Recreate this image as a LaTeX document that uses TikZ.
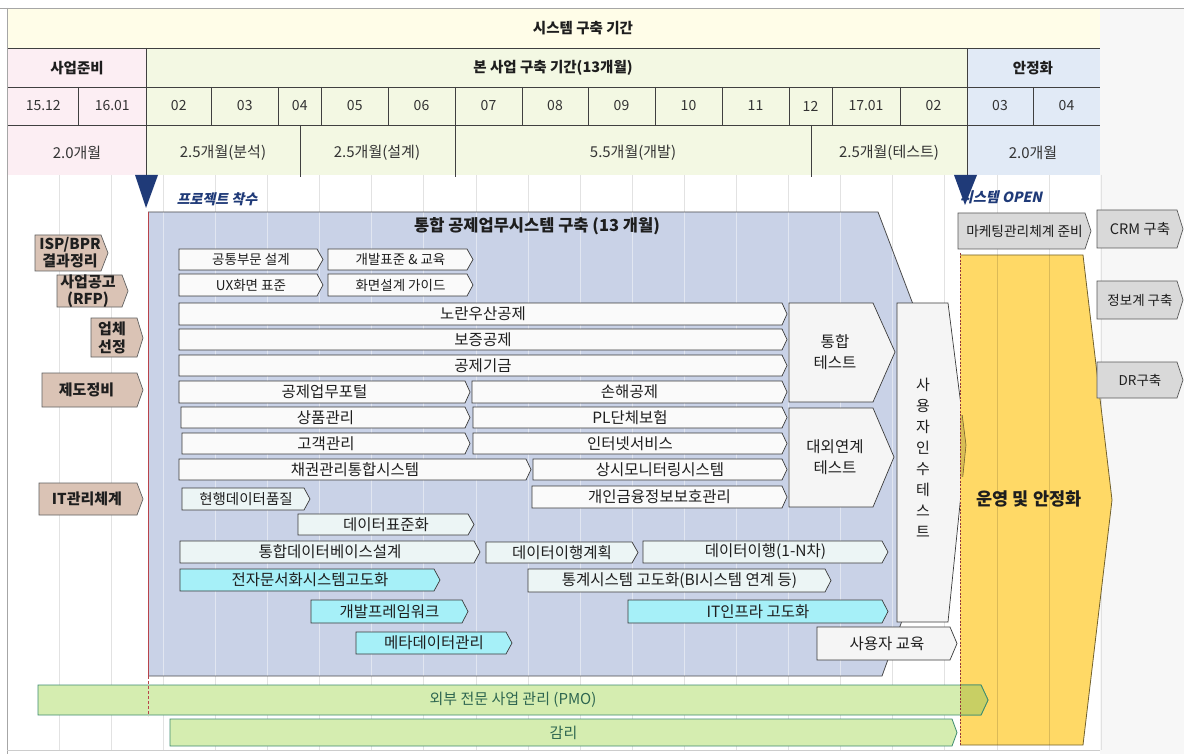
\documentclass[tikz,border=0pt]{standalone}
\usepackage{fontspec}
\setmainfont{Noto Sans CJK KR}
\newfontfamily\slfont[FakeSlant=0.22]{Noto Sans CJK KR}

\definecolor{hdrcream}{HTML}{FFFDE8}
\definecolor{hdrpink}{HTML}{FCEEF3}
\definecolor{hdrgreen}{HTML}{F3F8E3}
\definecolor{hdrblue}{HTML}{E1EAF6}
\definecolor{hdrline}{HTML}{404040}
\definecolor{gridc}{HTML}{E2E2E2}
\definecolor{mainblue}{HTML}{C9D2E7}
\definecolor{bardraw}{HTML}{3A3A3A}
\definecolor{wbar}{HTML}{FAFAFA}
\definecolor{dbar}{HTML}{ECF5F5}
\definecolor{cbar}{HTML}{A6F0F8}
\definecolor{tanc}{HTML}{DAC3B5}
\definecolor{greyc}{HTML}{D9D9D9}
\definecolor{goldc}{HTML}{FFD966}
\definecolor{navy}{HTML}{1F3A78}
\definecolor{pmofill}{HTML}{D5EDB0}
\definecolor{pmodraw}{HTML}{3E8C70}
\definecolor{pmotext}{HTML}{2E6650}
\definecolor{pmoolive}{HTML}{C8CF64}
\definecolor{tipolive}{HTML}{D9BC55}
\definecolor{redl}{HTML}{B8434A}
\definecolor{txt}{HTML}{1E1E1E}
\definecolor{monthtxt}{HTML}{333333}

\newcommand\tbar[9]{%
  \path[#6] (#2,#3) -- ({#4-#7},#3) -- (#4,{(#3+#5)/2}) -- ({#4-#7},#5) -- (#2,#5) -- cycle;
  \node[font=\fontsize{#8}{#8}\selectfont, text=txt, inner sep=0pt] (#1) at ({(#2+#4)/2},{(#3+#5)/2}) {#9};
}

\tikzset{
  wb/.style={draw=bardraw, line width=0.7pt, fill=wbar},
  db/.style={draw=bardraw, line width=0.7pt, fill=dbar},
  cb/.style={draw=bardraw, line width=0.7pt, fill=cbar},
  tb/.style={draw=gray!75!black, line width=0.7pt, fill=tanc},
  gb/.style={draw=gray!70!black, line width=0.7pt, fill=greyc},
  testbox/.style={draw=bardraw, line width=0.7pt, fill=white!96!black},
  hdr/.style={font=\bfseries\fontsize{14.5}{14.5}\selectfont, text=txt, inner sep=0pt},
  mon/.style={font=\fontsize{14}{14}\selectfont, text=monthtxt, inner sep=0pt},
  per/.style={font=\fontsize{15}{15}\selectfont, text=monthtxt, inner sep=0pt},
  hl/.style={draw=hdrline, line width=0.8pt},
}

\begin{document}
\begin{tikzpicture}[x=1pt,y=-1pt]
\useasboundingbox (0,0) rectangle (1184,754);
\fill[white] (0,0) rectangle (1184,754);
\fill[white!97!black] (1100,8) rectangle (1184,754);

% body grid
\foreach \k in {1,...,21} {
  \draw[gridc, line width=0.8pt] ({7+52.1*\k},175) -- ({7+52.1*\k},750);
}

% header fills
\fill[hdrcream] (8,8) rectangle (1100,48);
\fill[hdrpink] (8,48) rectangle (146,175);
\fill[hdrgreen] (146,48) rectangle (967,175);
\fill[hdrblue] (967,48) rectangle (1100,175);
\draw[gray!70, line width=0.6pt] (0,8) -- (1184,8);
\draw[gray!70, line width=0.8pt] (7,8) -- (7,754);
\draw[gray!40, line width=0.6pt] (7,750) -- (1100,750);
\draw[hl] (8,48) -- (1100,48);
\draw[hl] (8,87) -- (1100,87);
\draw[hl] (8,125) -- (1100,125);
\draw[hl] (146,48) -- (146,176);
\draw[hl] (967,48) -- (967,176);
\foreach \x in {78.5,211.5,278,321.5,388,455,522,588,655,722,789,832,900,1033} {
  \draw[hl] (\x,87) -- (\x,125);
}
\foreach \x in {300,455,811} {
  \draw[hl] (\x,125) -- (\x,177);
}
\node[hdr] (title) at (583,28) {시스템 구축 기간};
\node[hdr] (prep) at (77,68) {사업준비};
\node[hdr] (main) at (553,68) {본 사업 구축 기간(13개월)};
\node[hdr] (stab) at (1033,68) {안정화};
\foreach \a/\b/\t [count=\i] in {8/78.5/15.12, 78.5/146/16.01, 146/211.5/02, 211.5/278/03, 278/321.5/04, 321.5/388/05, 388/455/06, 455/522/07, 522/588/08, 588/655/09, 655/722/10, 722/789/11, 789/832/12, 832/900/17.01, 900/967/02, 967/1033/03, 1033/1100/04} {
  \node[mon] (m\i) at ({(\a+\b)/2},106) {\t};
}
\node[per] (p1) at (77,153) {2.0개월};
\node[per] (p2) at (223,153) {2.5개월(분석)};
\node[per] (p3) at (377,153) {2.5개월(설계)};
\node[per] (p4) at (633,153) {5.5개월(개발)};
\node[per] (p5) at (889,153) {2.5개월(테스트)};
\node[per] (p6) at (1033,153) {2.0개월};

% main blue pentagon
\fill[mainblue] (148,212) -- (878,212) -- (966,444) -- (882,676) -- (148,676) -- cycle;
\begin{scope}
  \clip (148,212) -- (878,212) -- (966,444) -- (882,676) -- (148,676) -- cycle;
  \foreach \k in {3,...,18} {
    \draw[white, opacity=0.45, line width=0.8pt] ({7+52.1*\k},212) -- ({7+52.1*\k},676);
  }
\end{scope}
\draw[draw=gray!60!black, line width=0.8pt] (148,212) -- (878,212) -- (966,444) -- (882,676) -- (148,676);
\draw[redl, line width=0.7pt] (148,212) -- (148,676);
\node[font=\bfseries\fontsize{16.5}{16.5}\selectfont, text=txt, inner sep=0pt] (maintitle) at (537,226) {통합 공제업무시스템 구축 (13 개월)};

% task bars
\tbar{gb1}{179}{249}{323}{270}{wb}{6}{13.5}{공통부문 설계}
\tbar{gb2}{328}{249}{473}{270}{wb}{6}{13.5}{개발표준 \& 교육}
\tbar{gb3}{179}{274}{323}{296}{wb}{6}{13.5}{UX화면 표준}
\tbar{gb4}{328}{274}{473}{296}{wb}{6}{13.5}{화면설계 가이드}
\tbar{b5}{179}{303}{787}{325}{wb}{5}{15.5}{노란우산공제}
\tbar{b6}{179}{329}{787}{350}{wb}{5}{15.5}{보증공제}
\tbar{b7}{179}{355}{787}{376}{wb}{5}{15.5}{공제기금}
\tbar{b8}{179}{381}{470}{403}{wb}{5}{15.5}{공제업무포털}
\tbar{b9}{472}{381}{787}{403}{wb}{5}{15.5}{손해공제}
\tbar{b10}{181}{407}{470}{428}{wb}{5}{15.5}{상품관리}
\tbar{b11}{473}{407}{787}{428}{wb}{5}{15.5}{PL단체보험}
\tbar{b12}{182}{433}{470}{454}{wb}{5}{15.5}{고객관리}
\tbar{b13}{473}{433}{787}{454}{wb}{5}{15.5}{인터넷서비스}
\tbar{b14}{179}{459}{531}{480}{wb}{5}{15.5}{채권관리통합시스템}
\tbar{b15}{533}{459}{787}{480}{wb}{5}{15.5}{상시모니터링시스템}
\tbar{b16}{532}{486}{787}{508}{wb}{5}{15.5}{개인금융정보보호관리}
\tbar{d1}{182}{488}{310}{510}{db}{6}{14.5}{현행데이터품질}
\tbar{d2}{298}{514}{474}{535}{db}{6}{15.5}{데이터표준화}
\tbar{d3}{180}{541}{480}{563}{db}{6}{15.5}{통합데이터베이스설계}
\tbar{d4}{486}{542}{638}{563}{db}{6}{15.5}{데이터이행계획}
\tbar{d5}{643}{541}{888}{563}{db}{6}{15.5}{데이터이행(1-N차)}
\tbar{d6}{528}{569}{831}{592}{db}{6}{15.5}{통계시스템 고도화(BI시스템 연계 등)}
\tbar{c1}{180}{569}{440}{591}{cb}{6}{15.5}{전자문서화시스템고도화}
\tbar{c2}{311}{600}{468}{623}{cb}{6}{15.5}{개발프레임워크}
\tbar{c3}{628}{600}{888}{623}{cb}{6}{15.5}{IT인프라 고도화}
\tbar{c4}{356}{632}{512}{654}{cb}{6}{15.5}{메타데이터관리}

% test chevrons
\path[testbox] (789,303) -- (873,303) -- (895,352) -- (873,402) -- (789,402) -- cycle;
\node[font=\fontsize{15.5}{21}\selectfont, align=center, text=txt, inner sep=0pt] (itest) at (835,352) {통합\\테스트};
\path[testbox] (789,408) -- (873,408) -- (894,457) -- (873,507) -- (789,507) -- cycle;
\node[font=\fontsize{15.5}{21}\selectfont, align=center, text=txt, inner sep=0pt] (xtest) at (835,457) {대외연계\\테스트};
\path[testbox] (897,303) -- (948,303) -- (966,445) -- (948,622) -- (897,622) -- cycle;
\node[font=\fontsize{15}{21}\selectfont, align=center, text=txt, inner sep=0pt] (uat) at (923,458) {사\\용\\자\\인\\수\\테\\스\\트};
\tbar{edu}{817}{627}{957}{660}{testbox}{7}{15.5}{사용자 교육}

% left column
\path[tb] (35,235) -- (101,235) -- (108,253) -- (101,271) -- (35,271) -- cycle;
\node[font=\bfseries\fontsize{15}{17}\selectfont, align=center, text=txt, inner sep=0pt] (isp) at (70,253) {ISP/BPR\\결과정리};
\path[tb] (57,275) -- (122,275) -- (128,291) -- (122,307) -- (57,307) -- cycle;
\node[font=\bfseries\fontsize{15}{17}\selectfont, align=center, text=txt, inner sep=0pt] (rfp) at (88,291) {사업공고\\(RFP)};
\path[tb] (91,318) -- (137,318) -- (143,338) -- (137,357) -- (91,357) -- cycle;
\node[font=\bfseries\fontsize{15}{18}\selectfont, align=center, text=txt, inner sep=0pt] (sel) at (112,338) {업체\\선정};
\tbar{law}{42}{373}{143}{407}{tb}{6}{15}{\bfseries\hspace*{-12pt}제도정비}
\tbar{itm}{39}{483}{143}{515}{tb}{6}{15}{\bfseries\hspace*{-8pt}IT관리체계}

% yellow operation
\fill[goldc] (960,255) -- (1083,255) -- (1112,500) -- (1083,745) -- (960,745) -- cycle;
\begin{scope}
  \clip (960,255) -- (1083,255) -- (1112,500) -- (1083,745) -- (960,745) -- cycle;
  \foreach \k in {19,20} {
    \draw[black!40!goldc, opacity=0.35, line width=0.8pt] ({7+52.1*\k},255) -- ({7+52.1*\k},745);
  }
\end{scope}
\draw[draw=black!55!goldc, line width=0.8pt] (960,255) -- (1083,255) -- (1112,500) -- (1083,745) -- (960,745);
\node[font=\bfseries\fontsize{17.5}{18}\selectfont, text=txt, inner sep=0pt] (ops) at (1029,499) {운영 및 안정화};
% tip of acceptance test over the yellow
\begin{scope}
  \clip (960,415) rectangle (990,476);
  \path[fill=tipolive, draw=black!55!goldc, line width=0.6pt] (897,303) -- (948,303) -- (966,445) -- (948,622) -- (897,622) -- cycle;
\end{scope}

% PMO and audit
\tbar{pmo}{38}{685}{988}{715}{draw=pmodraw, line width=0.8pt, fill=pmofill}{7}{15}{\color{pmotext}외부 전문 사업 관리 (PMO)}
\begin{scope}
  \clip (960,680) rectangle (995,720);
  \path[fill=pmoolive, draw=pmodraw, line width=0.8pt] (38,685) -- (981,685) -- (988,700) -- (981,715) -- (38,715) -- cycle;
\end{scope}
\tbar{audit}{170}{719}{957}{746}{draw=pmodraw, line width=0.8pt, fill=pmofill}{5}{15}{\color{pmotext}감리}

% dashed red lines
\draw[redl, dash pattern=on 3pt off 2pt, line width=0.7pt] (148,676) -- (148,716);
\draw[redl!80!black, dash pattern=on 2pt off 1.5pt, line width=0.8pt] (960,253) -- (960,746);

% right side grey boxes
\tbar{mkt}{958}{213}{1091}{249}{gb}{6}{13.7}{마케팅관리체계 준비}
\tbar{crm}{1097}{210}{1183}{248}{gb}{6}{14.5}{CRM 구축}
\tbar{info}{1097}{281}{1183}{319}{gb}{6}{13.5}{정보계 구축}
\tbar{dr}{1097}{362}{1183}{398}{gb}{6}{13.5}{DR구축}

% milestones
\node[font=\slfont\bfseries\fontsize{14}{14}\selectfont, text=navy, inner sep=0pt] (kick) at (217,199) {프로젝트 착수};
\node[font=\slfont\bfseries\fontsize{14}{14}\selectfont, text=navy, inner sep=0pt, anchor=west] (open) at (960,197) {시스템 OPEN};
\fill[navy] (135,175) -- (158,175) -- (146,208) -- cycle;
\fill[navy] (954,175) -- (977,175) -- (965,205) -- cycle;
\end{tikzpicture}
\end{document}
